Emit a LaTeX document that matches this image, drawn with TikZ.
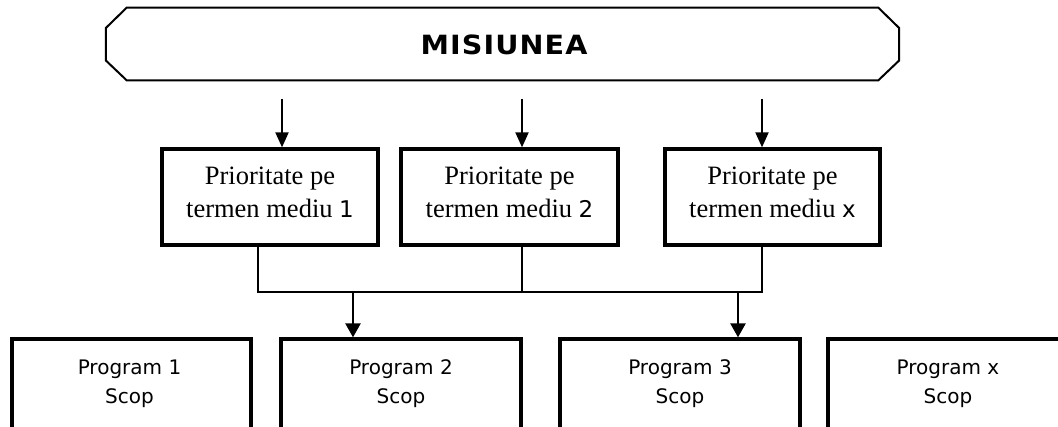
\documentclass[tikz,border=0pt]{standalone}
\usepackage{fontspec}
\usepackage{graphicx}
\setmainfont{Liberation Serif}
\newfontfamily\verd{DejaVu Sans}
\usetikzlibrary{arrows.meta}
\begin{document}
\begin{tikzpicture}[x=1pt,y=-1pt,
  misbox/.style={rectangle, inner sep=0pt, minimum width=793pt, minimum height=72.5pt},
  misline/.style={line width=2pt, line join=miter},
  pbox/.style={draw, line width=3.3pt, inner sep=0pt, minimum height=96pt},
  gbox/.style={draw, line width=3.3pt, inner sep=0pt, minimum width=240pt, minimum height=140pt},
  ptxt/.style={align=center, inner sep=0pt, font=\fontsize{26.5}{33}\selectfont},
  gtxt/.style={align=center, inner sep=0pt, font=\verd\fontsize{20}{29}\selectfont},
  conn/.style={line width=1.3pt},
  toparr/.style={line width=2pt, -{Triangle[length=15pt,width=13pt]}},
  botarr/.style={line width=2.5pt, -{Triangle[length=14pt,width=15pt]}}
]
\useasboundingbox (0,0) rectangle (1058,427);
\clip (0,0) rectangle (1058,427);

% Mission
\node[misbox] (mis) at (502.5,44) {};
\draw[misline] ([xshift=21pt]mis.north west) -- ([xshift=-21pt]mis.north east)
  -- ([yshift=-20.5pt]mis.north east) -- ([yshift=20pt]mis.south east)
  -- ([xshift=-21pt]mis.south east) -- ([xshift=21pt]mis.south west)
  -- ([yshift=20pt]mis.south west) -- ([yshift=-20.5pt]mis.north west) -- cycle;
\node[inner sep=0pt, font=\verd\bfseries\fontsize{26.5}{30}\selectfont] (mistxt) at (504,45)
  {\scalebox{1.08}[1]{M\kern1pt I\kern1pt S\kern1pt I\kern1pt U\kern1pt N\kern1pt E\kern1pt A}};

% Priorities
\node[pbox, minimum width=216pt] (p1) at (270,197) {};
\node[pbox, minimum width=217pt] (p2) at (509.5,197) {};
\node[pbox, minimum width=215pt] (p3) at (772.5,197) {};
\node[ptxt] (p1t) at (270,192.5) {Prioritate pe\\termen mediu {\verd\fontsize{23}{33}\selectfont 1}};
\node[ptxt] (p2t) at (509.5,192.5) {Prioritate pe\\termen mediu {\verd\fontsize{23}{33}\selectfont 2}};
\node[ptxt] (p3t) at (772.5,192.5) {Prioritate pe\\termen mediu {\verd\fontsize{23}{33}\selectfont x}};

\coordinate (t1) at (282,99);
\coordinate (t2) at (522,99);
\coordinate (t3) at (762,99);
\draw[toparr] (t1) -- (t1 |- p1.north);
\draw[toparr] (t2) -- (t2 |- p2.north);
\draw[toparr] (t3) -- (t3 |- p3.north);

% Programs
\node[gbox, minimum width=239pt] (g1) at (131.5,409) {};
\node[gbox] (g2) at (401,409) {};
\node[gbox] (g3) at (680,409) {};
\node[gbox] (g4) at (948,409) {};
\node[gtxt] (g1t) at (129.5,383.3) {Program 1\\Scop};
\node[gtxt] (g2t) at (401,383.3) {Program 2\\Scop};
\node[gtxt] (g3t) at (680,383.3) {Program 3\\Scop};
\node[gtxt] (g4t) at (948,383.3) {Program x\\Scop};

% Connectors
\coordinate (b1) at (258,292);
\coordinate (b2) at (522,292);
\coordinate (b3) at (762,292);
\draw[conn] (p1.south -| b1) -- (b1) -- (b3) -- (p3.south -| b3);
\draw[conn] (p2.south -| b2) -- (b2);
\coordinate (a1) at (353,292);
\coordinate (a2) at (738,292);
\draw[botarr] (a1) -- (a1 |- g2.north);
\draw[botarr] (a2) -- (a2 |- g3.north);
\end{tikzpicture}
\end{document}
